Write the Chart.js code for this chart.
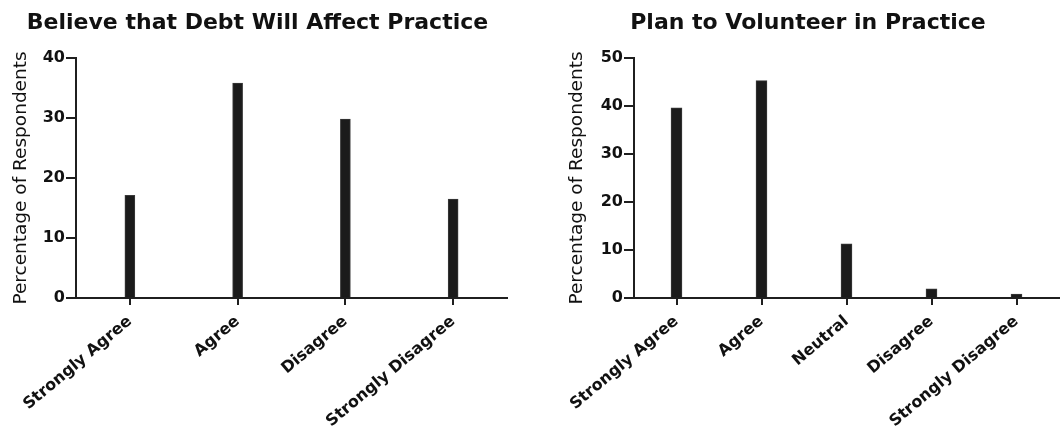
<!DOCTYPE html>
<html>
<head>
<meta charset="utf-8">
<title>Debt and Volunteering Survey</title>
<script src="https://cdn.jsdelivr.net/npm/chart.js@4.4.1/dist/chart.umd.min.js"></script>
<style>
  html, body { margin: 0; padding: 0; background: #ffffff; }
  .panel { position: absolute; top: 0; height: 430px; }
  #debtPanel { left: 0; width: 530px; }
  #volPanel { left: 530px; width: 531px; }
</style>
</head>
<body>
<div id="debtPanel" class="panel"><canvas id="debtChart"></canvas></div>
<div id="volPanel" class="panel"><canvas id="volChart"></canvas></div>
<script>
// Survey responses, percentage of respondents
const debtTitle = 'Believe that Debt Will Affect Practice';
const debtCategories = ['Strongly Agree', 'Agree', 'Disagree', 'Strongly Disagree'];
const debtValues = [17.1, 35.8, 29.8, 16.5];
const debtTicks = [0, 10, 20, 30, 40];

const volTitle = 'Plan to Volunteer in Practice';
const volCategories = ['Strongly Agree', 'Agree', 'Neutral', 'Disagree', 'Strongly Disagree'];
const volValues = [39.6, 45.3, 11.3, 1.9, 0.8];
const volTicks = [0, 10, 20, 30, 40, 50];

const yAxisTitle = 'Percentage of Respondents';

const FONT = 'DejaVu Sans';
const INK = '#1f1f1f';

function makeChart(canvasId, cfg) {
  const ctx = document.getElementById(canvasId);
  return new Chart(ctx, {
    type: 'bar',
    data: {
      labels: cfg.categories,
      datasets: [{
        data: cfg.values,
        backgroundColor: '#1b1b1b',
        borderColor: '#3a3a3a',
        borderWidth: 1,
        barThickness: cfg.barThickness
      }]
    },
    options: {
      responsive: true,
      maintainAspectRatio: false,
      animation: false,
      layout: { padding: { left: cfg.padLeft, right: cfg.padRight, top: 0, bottom: 0 } },
      plugins: {
        legend: { display: false },
        tooltip: { enabled: false },
        title: {
          display: true,
          text: cfg.title,
          color: '#111',
          font: { family: FONT, size: 22, weight: 'bold', lineHeight: 1.2 },
          padding: { top: 9.6, bottom: 22 }
        }
      },
      scales: {
        x: {
          offset: true,
          grid: {
            display: true,
            drawOnChartArea: false,
            drawTicks: true,
            offset: false,
            tickLength: 7,
            color: INK,
            lineWidth: 2
          },
          border: { display: true, color: INK, width: 2 },
          ticks: {
            autoSkip: false,
            minRotation: 40,
            maxRotation: 40,
            padding: 7,
            color: '#111',
            font: { family: FONT, size: 16, weight: 'bold' }
          },
          afterFit: (scale) => { scale.height = 132; }
        },
        y: {
          min: 0,
          max: cfg.ticks[cfg.ticks.length - 1],
          afterBuildTicks: (scale) => { scale.ticks = cfg.ticks.map(v => ({ value: v })); },
          grid: {
            display: true,
            drawOnChartArea: false,
            drawTicks: true,
            tickLength: 10,
            color: INK,
            lineWidth: 2
          },
          border: { display: true, color: INK, width: 2 },
          ticks: {
            padding: 1,
            color: '#111',
            font: { family: FONT, size: 16, weight: 'bold' }
          },
          title: {
            display: true,
            text: yAxisTitle,
            color: '#111',
            font: { family: FONT, size: 18.5, weight: 'normal', lineHeight: 1.2 },
            padding: { top: cfg.yTitlePad, bottom: 0 }
          },
          afterFit: (scale) => { scale.width = cfg.yWidth; }
        }
      }
    }
  });
}

makeChart('debtChart', {
  title: debtTitle,
  categories: debtCategories,
  values: debtValues,
  ticks: debtTicks,
  barThickness: 10,
  padLeft: 8,
  padRight: 23,
  yWidth: 68,
  yTitlePad: 2
});

makeChart('volChart', {
  title: volTitle,
  categories: volCategories,
  values: volValues,
  ticks: volTicks,
  barThickness: 11,
  padLeft: 27,
  padRight: 2,
  yWidth: 77,
  yTitlePad: 9
});
</script>
</body>
</html>
